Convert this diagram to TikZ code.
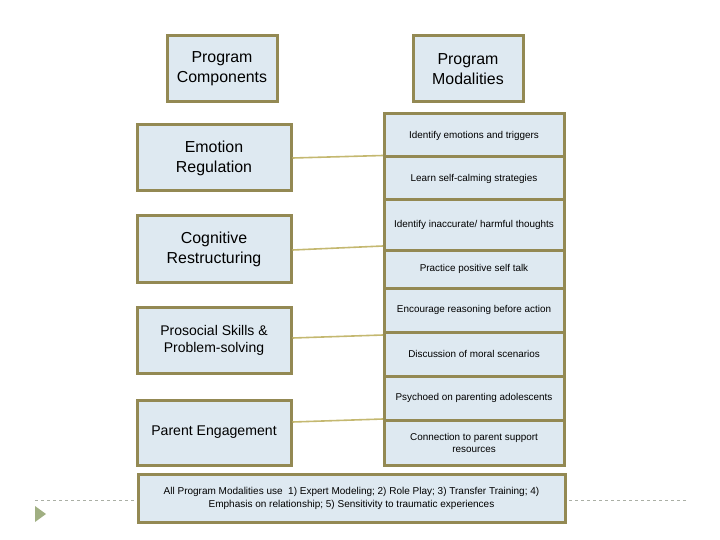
\documentclass[tikz,border=0pt]{standalone}
\usepackage{fontspec}
\setmainfont{Liberation Sans}
\definecolor{boxfill}{RGB}{222,233,241}
\definecolor{boxline}{RGB}{147,137,83}
\definecolor{linkline}{RGB}{196,184,112}
\definecolor{dashgray}{RGB}{170,175,165}
\definecolor{trigreen}{RGB}{160,175,130}
\tikzset{
  bigbox/.style={draw=boxline, line width=3pt, fill=boxfill, inner sep=0pt, align=center,
    font=\fontsize{15.9}{20}\selectfont},
  modbox/.style={draw=boxline, line width=3pt, fill=boxfill, inner sep=0pt, align=center,
    minimum width=180pt, font=\fontsize{9.9}{12}\selectfont},
  link/.style={draw=linkline, line width=1.6pt},
}
\begin{document}
\begin{tikzpicture}[x=1pt,y=-1pt]
\useasboundingbox (0,0) rectangle (720,540);
% dashed separator and bullet triangle
\draw[dashgray, dashed, line width=0.8pt] (35,500) -- (686,500);
\fill[trigreen] (35,506) -- (46,514) -- (35,522) -- cycle;
% headers
\node[bigbox, minimum width=110pt, minimum height=66pt] (pc) at (222,69) {Program\\Components};
\node[bigbox, minimum width=110pt, minimum height=66pt] (pm) at (468,69) {Program\\Modalities};
% components
\node[bigbox, minimum width=154pt, minimum height=66pt] (er) at (214,158) {Emotion\\Regulation};
\node[bigbox, minimum width=154pt, minimum height=66pt] (cr) at (214,249) {Cognitive\\Restructuring};
\node[bigbox, minimum width=154pt, minimum height=66pt, font=\fontsize{14}{17}\selectfont] (ps) at (214,340) {Prosocial Skills \&\\Problem-solving};
\node[bigbox, minimum width=154pt, minimum height=65pt, font=\fontsize{14.1}{17}\selectfont] (pe) at (214,432.5) {Parent Engagement};
% modalities
\node[modbox, minimum height=43pt] (m1) at (474,135.5) {Identify emotions and triggers};
\node[modbox, minimum height=43pt] (m2) at (474,178.5) {Learn self-calming strategies};
\node[modbox, minimum height=50pt] (m3) at (474,225) {Identify inaccurate/ harmful thoughts};
\node[modbox, minimum height=38pt] (m4) at (474,269) {Practice positive self talk};
\node[modbox, minimum height=44pt] (m5) at (474,310) {Encourage reasoning before action};
\node[modbox, minimum height=44pt] (m6) at (474,354) {Discussion of moral scenarios};
\node[modbox, minimum height=44pt] (m7) at (474,398) {Psychoed on parenting adolescents};
\node[modbox, minimum height=45pt] (m8) at (474,442.5) {Connection to parent support\\resources};
% bottom note
\node[modbox, minimum width=427pt, minimum height=48pt, font=\fontsize{10}{13}\selectfont] (note) at (351.5,498) {All Program Modalities use\ \ 1) Expert Modeling; 2) Role Play; 3) Transfer Training; 4)\\Emphasis on relationship; 5) Sensitivity to traumatic experiences};
% link end points on the modality column
\coordinate (c1) at (383,155.5);
\coordinate (c2) at (383,246);
\coordinate (c3) at (383,335);
\coordinate (c4) at (383,419);
\draw[link] (er.east |- 0,158) -- (c1);
\draw[link] (cr.east |- 0,250) -- (c2);
\draw[link] (ps.east |- 0,338) -- (c3);
\draw[link] (pe.east |- 0,422) -- (c4);
\end{tikzpicture}
\end{document}
